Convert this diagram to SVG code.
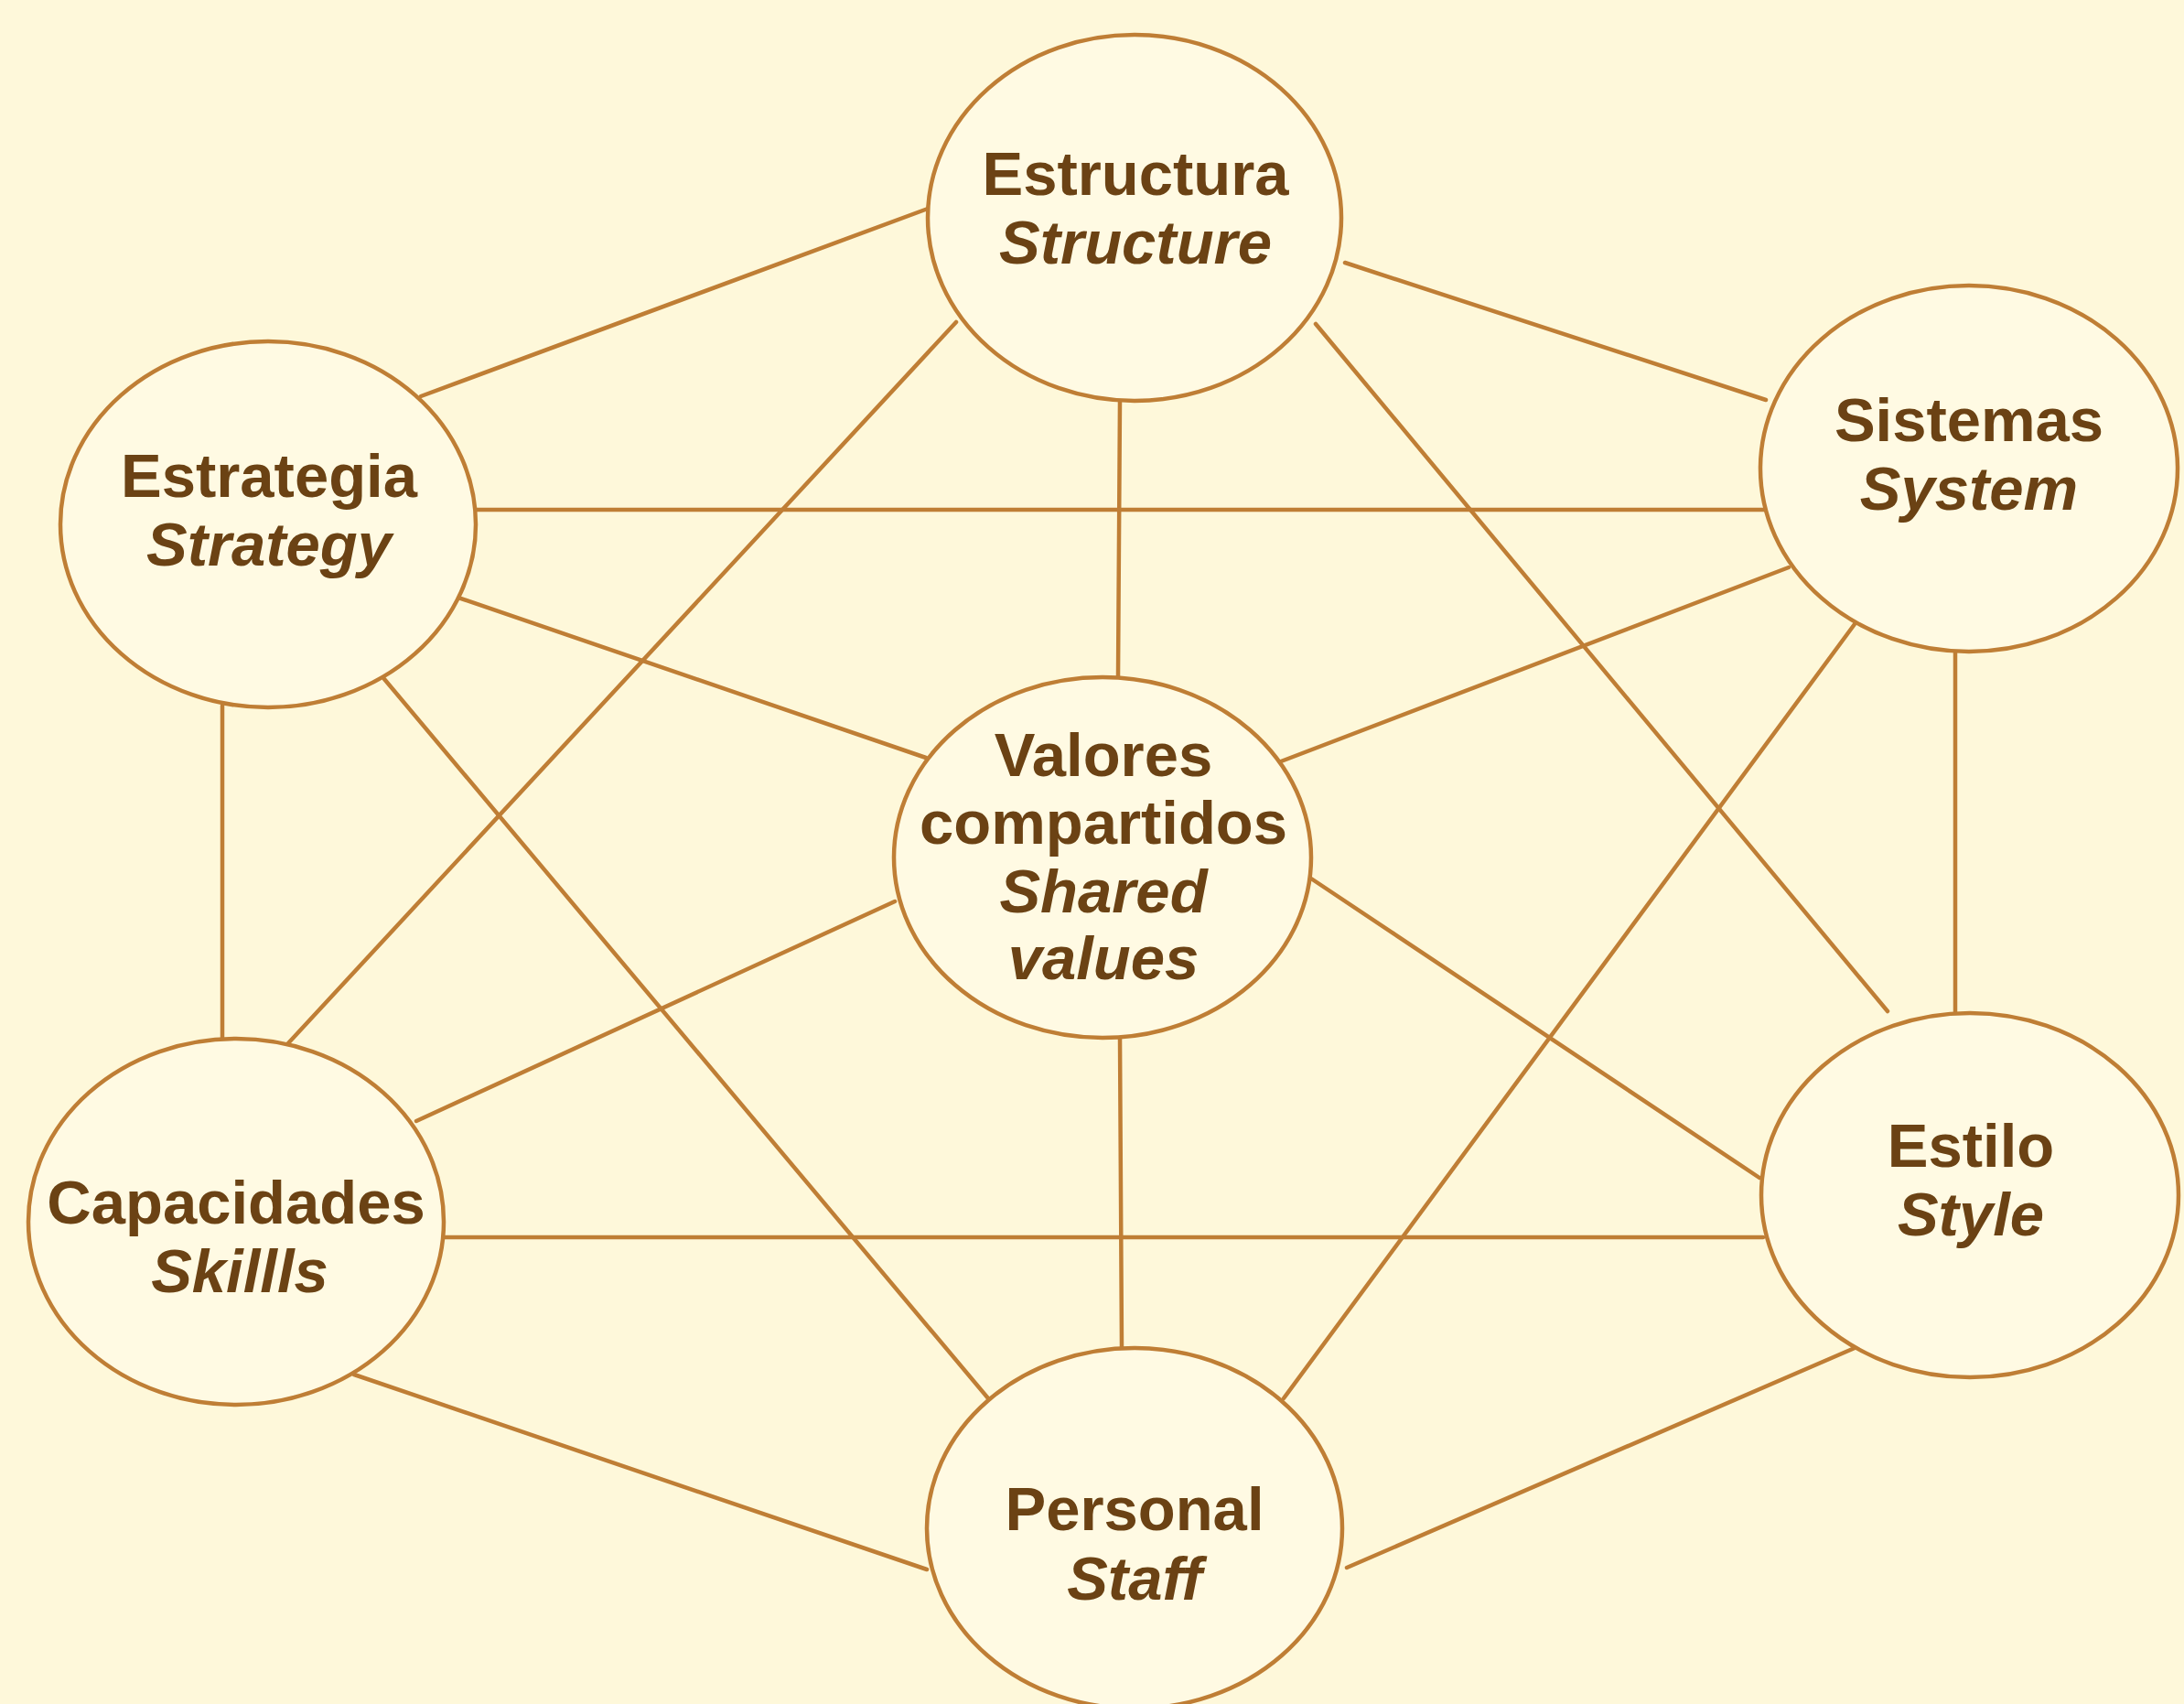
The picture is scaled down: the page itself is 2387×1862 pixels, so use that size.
<svg xmlns="http://www.w3.org/2000/svg" width="2387" height="1862" viewBox="0 0 2387 1862">
<style>
.bg{fill:#FEF8DA}
.node ellipse{fill:#FFFAE3;stroke:#BF7E35;stroke-width:4.5}
.edges line{stroke:#BF7E35;stroke-width:4.5;stroke-linecap:round}
.node text{font-family:"Liberation Sans",Arial,sans-serif;font-weight:bold;font-size:67px;fill:#6B4214;text-anchor:middle}
.node text.en{font-style:italic}
</style>
<rect class="bg" x="0" y="0" width="2387" height="1862"/>
<g id="connectors" class="edges">
<line x1="1014" y1="228" x2="460" y2="433"/>
<line x1="1470" y1="287" x2="1930" y2="437"/>
<line x1="1224" y1="438" x2="1222" y2="740"/>
<line x1="1045" y1="352" x2="315" y2="1140"/>
<line x1="1438" y1="354" x2="2063" y2="1105"/>
<line x1="520" y1="557" x2="1932" y2="557"/>
<line x1="492" y1="650" x2="1012" y2="828"/>
<line x1="243" y1="771" x2="243" y2="1137"/>
<line x1="420" y1="742" x2="1080" y2="1528"/>
<line x1="1955" y1="620" x2="1400" y2="832"/>
<line x1="2027" y1="682" x2="1403" y2="1528"/>
<line x1="2137" y1="712" x2="2137" y2="1107"/>
<line x1="978" y1="985" x2="455" y2="1225"/>
<line x1="1433" y1="960" x2="1923" y2="1287"/>
<line x1="1224" y1="1133" x2="1226" y2="1473"/>
<line x1="485" y1="1352" x2="1927" y2="1352"/>
<line x1="387" y1="1502" x2="1013" y2="1715"/>
<line x1="2027" y1="1473" x2="1472" y2="1713"/>
</g>
<g id="estructura" class="node">
<ellipse cx="1240" cy="238" rx="226" ry="200"/>
<text x="1241" y="213">Estructura</text>
<text class="en" x="1241" y="288">Structure</text>
</g>
<g id="estrategia" class="node">
<ellipse cx="293" cy="573" rx="227" ry="200"/>
<text x="294" y="543">Estrategia</text>
<text class="en" x="294" y="618">Strategy</text>
</g>
<g id="sistemas" class="node">
<ellipse cx="2152" cy="512" rx="228" ry="200"/>
<text x="2152" y="482">Sistemas</text>
<text class="en" x="2152" y="557">System</text>
</g>
<g id="valores" class="node">
<ellipse cx="1205" cy="937" rx="228" ry="197"/>
<text x="1206" y="848">Valores</text>
<text x="1206" y="922" font-size="66">compartidos</text>
<text class="en" x="1206" y="997">Shared</text>
<text class="en" x="1206" y="1070">values</text>
</g>
<g id="capacidades" class="node">
<ellipse cx="258" cy="1335" rx="227" ry="200"/>
<text x="258" y="1337" font-size="69">Capacidades</text>
<text class="en" x="262" y="1412">Skillls</text>
</g>
<g id="estilo" class="node">
<ellipse cx="2153" cy="1306" rx="228" ry="199"/>
<text x="2154" y="1275">Estilo</text>
<text class="en" x="2154" y="1350">Style</text>
</g>
<g id="personal" class="node">
<ellipse cx="1240" cy="1670" rx="227" ry="197"/>
<text x="1240" y="1672">Personal</text>
<text class="en" x="1240" y="1748">Staff</text>
</g>
</svg>
